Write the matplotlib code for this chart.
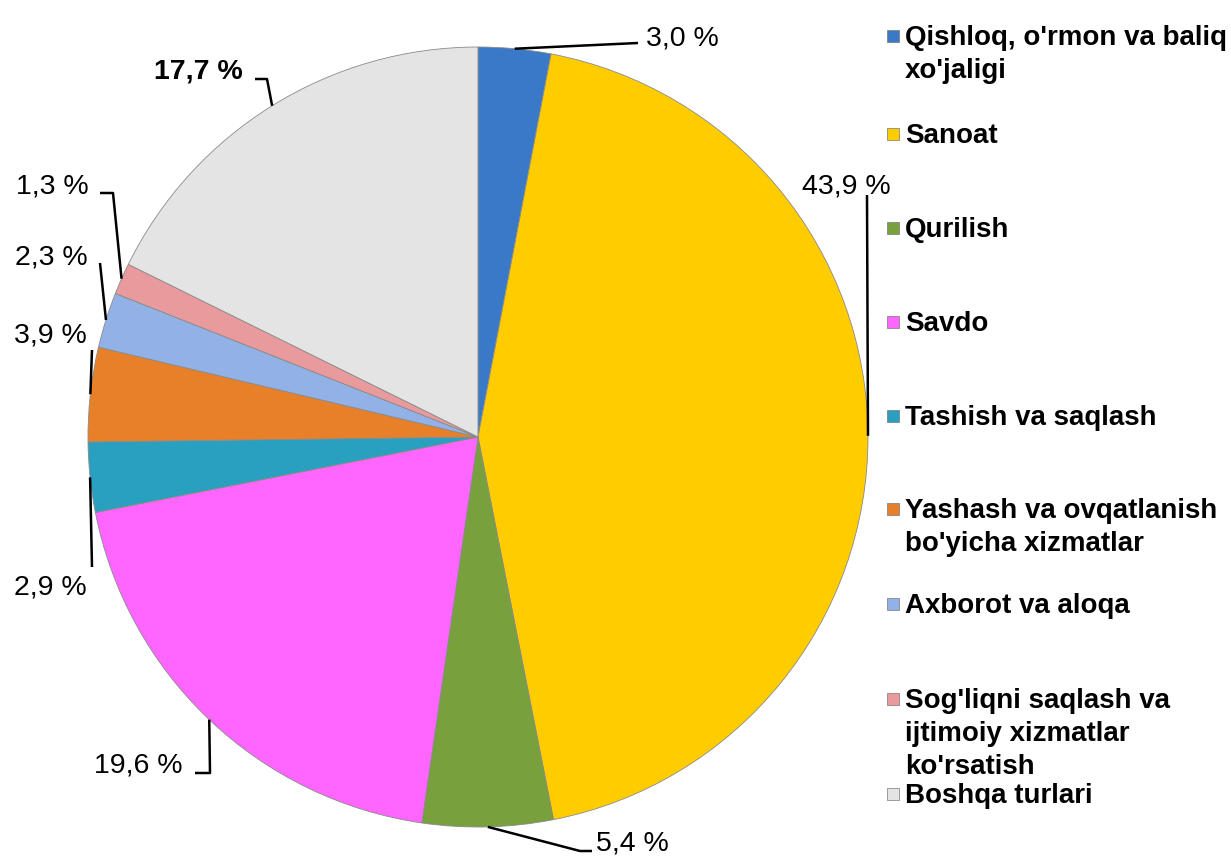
import matplotlib
matplotlib.use("Agg")
import matplotlib.pyplot as plt
from matplotlib.patches import Rectangle
import numpy as np

# ---- data ----
categories = [
    "Qishloq, o'rmon va baliq\nxo'jaligi",
    "Sanoat",
    "Qurilish",
    "Savdo",
    "Tashish va saqlash",
    "Yashash va ovqatlanish\nbo'yicha xizmatlar",
    "Axborot va aloqa",
    "Sog'liqni saqlash va\nijtimoiy xizmatlar\nko'rsatish",
    "Boshqa turlari",
]
values = [3.0, 43.9, 5.4, 19.6, 2.9, 3.9, 2.3, 1.3, 17.7]
colors = ["#3a78c8", "#ffcc00", "#78a03c", "#ff66ff", "#2aa0c0",
          "#e8802a", "#92b1e6", "#e89a9c", "#e4e4e4"]

# ---- layout (pixel coordinates, y downward) ----
W, H = 1231, 857
cx, cy, R = 478, 437, 390
label_pos = [(682, 45), (846, 193), (632, 850), (138, 773), (50, 594),
             (50, 343), (51, 265), (52, 193), (198, 78)]
label_bold = [False, False, False, False, False, False, False, False, True]
leader_pts = [
    [(638, 43)],
    [(867, 195)],
    [(580, 851), (592, 851)],
    [(210, 773), (195, 773)],
    [(92, 567)],
    [(92, 350)],
    [(100, 263)],
    [(113, 193), (100, 193)],
    [(267, 79), (255, 79)],
]
legend_base = [45, 143, 237, 331, 425, 518, 613, 708, 803]
legend_step = 33

fig = plt.figure(figsize=(W / 100, H / 100), dpi=100)
ax = fig.add_axes([0, 0, 1, 1])

wedges, _ = ax.pie(values, colors=colors, startangle=-90, counterclock=True,
                   center=(cx, cy), radius=R,
                   wedgeprops=dict(edgecolor="#8a8a8a", linewidth=0.6))
ax.set_xlim(0, W)
ax.set_ylim(H, 0)
ax.set_aspect("equal")
ax.axis("off")

font = "Liberation Sans"
for w, v, pos, pts, b in zip(wedges, values, label_pos, leader_pts, label_bold):
    mid = np.deg2rad((w.theta1 + w.theta2) / 2)
    ax_x = cx + R * np.cos(mid)
    ax_y = cy + R * np.sin(mid)
    xs = [ax_x] + [p[0] for p in pts]
    ys = [ax_y] + [p[1] for p in pts]
    ax.plot(xs, ys, color="black", lw=1.8, solid_capstyle="butt")
    txt = f"{v:.1f}".replace(".", ",") + " %"
    ax.text(pos[0], pos[1], txt, ha="center", va="baseline", fontsize=20.5,
            family=font, fontweight="bold" if b else "normal", color="black")

# ---- legend ----
for cat, col, yb in zip(categories, colors, legend_base):
    ax.add_patch(Rectangle((887, yb - 15), 12, 12, facecolor=col,
                           edgecolor="#777777", linewidth=0.5))
    for i, line in enumerate(cat.split("\n")):
        ax.text(905, yb + i * legend_step, line, ha="left", va="baseline",
                fontsize=20, fontweight="bold", family=font, color="black")

fig.savefig("out.png", dpi=100)
